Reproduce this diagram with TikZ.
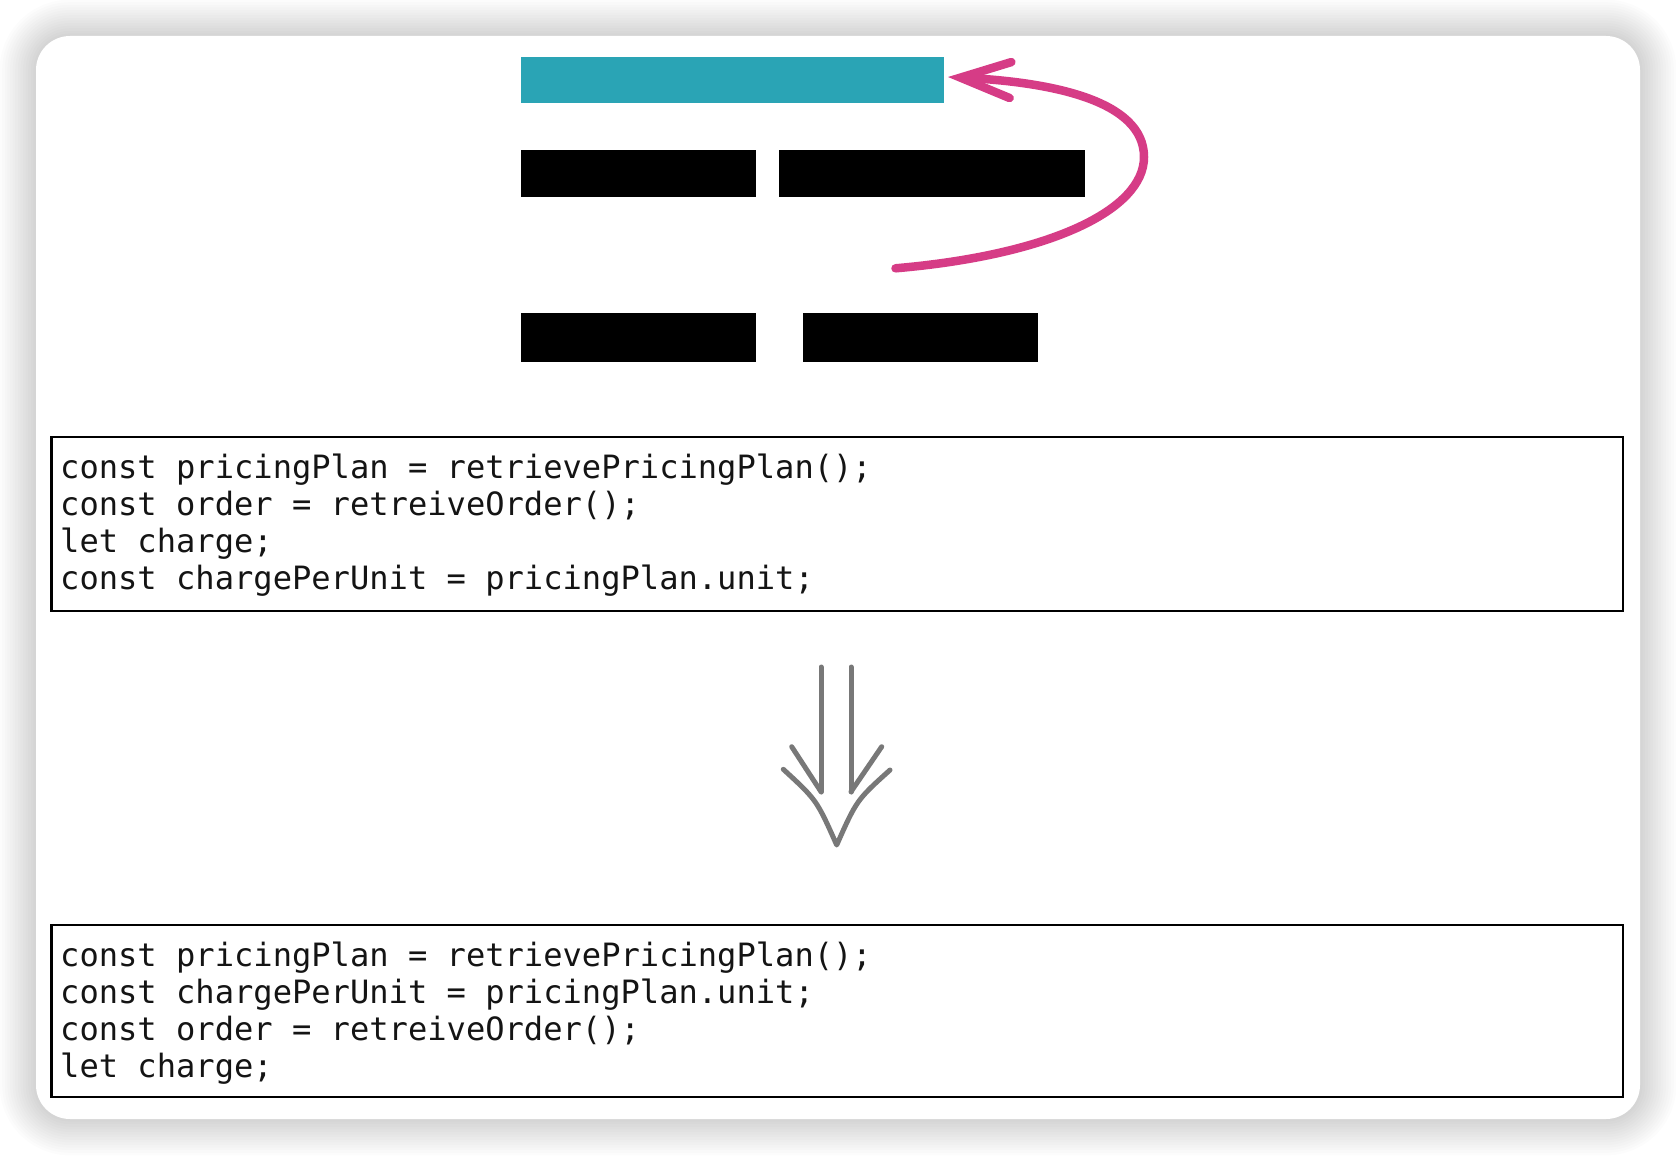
\documentclass[tikz,border=0pt]{standalone}
\usepackage{fontspec}
\newfontfamily\codefont{DejaVu Sans Mono}
\usetikzlibrary{arrows.meta}
\definecolor{tealbar}{HTML}{2AA4B5}
\definecolor{pinkarrow}{HTML}{D63C86}
\definecolor{grayarrow}{HTML}{787878}
\definecolor{codeink}{HTML}{141414}
\begin{document}
\begin{tikzpicture}[x=1pt,y=-1pt,
  barbox/.style={fill=black, draw=none, inner sep=0pt, outer sep=0pt},
  tealbox/.style={fill=tealbar, draw=none, inner sep=0pt, outer sep=0pt},
  codebox/.style={draw=black, line width=2.4pt, fill=white, inner sep=0pt},
  codeline/.style={anchor=base west, inner sep=0pt, text=codeink,
    font=\codefont\fontsize{32.1}{37}\selectfont},
  movearrow/.style={pinkarrow, line width=8.5pt, line cap=round,
    -{Straight Barb[length=50pt, width=36pt, line cap=round]}},
  downarrow/.style={grayarrow, line width=5pt, line cap=round, line join=round},
  ]
\useasboundingbox (0,0) rectangle (1676,1156);
\fill[white] (0,0) rectangle (1676,1156);
% card shadow
\foreach \i in {1,...,14} {
  \pgfmathsetmacro\rr{34+\i*2.6}
  \pgfmathsetmacro\dd{\i*2.6}
  \fill[black, opacity=0.011, rounded corners=\rr pt]
    (36-\dd, 36-\dd) rectangle (1640+\dd, 1119+\dd);
}
% card
\fill[white, rounded corners=34pt] (36,36) rectangle (1640,1119);

% bars
\node[tealbox, minimum width=423pt, minimum height=46pt] (teal) at (732.5,80) {};
\node[barbox, minimum width=235pt, minimum height=46.7pt] (b1) at (638.85,173.35) {};
\node[barbox, minimum width=305.7pt, minimum height=46.7pt] (b2) at (932.25,173.35) {};
\node[barbox, minimum width=235pt, minimum height=49pt] (b3) at (638.85,337.2) {};
\node[barbox, minimum width=234.6pt, minimum height=49pt] (b4) at (920.5,337.2) {};

% pink move arrow
\coordinate (pstart) at (895.5,268.3);
\draw[movearrow] (pstart) .. controls (1050,255) and (1144,210) .. (1144,157)
  .. controls (1144,100) and (1050,82) .. ([xshift=4pt,yshift=3pt]teal.east);

% code box 1
\node[codebox, minimum width=1571.7pt, minimum height=174.3pt] (box1) at (837.15,523.85) {};
\node[codeline] (l11) at (60,478.7) {const pricingPlan = retrievePricingPlan();};
\node[codeline] (l12) at (60,515.7) {const order = retreiveOrder();};
\node[codeline] (l13) at (60,552.7) {let charge;};
\node[codeline] (l14) at (60,589.7) {const chargePerUnit = pricingPlan.unit;};

% down arrow
\draw[downarrow] (821,667) -- (821,792);
\draw[downarrow] (851,667) -- (851,792);
\draw[downarrow] (791.7,746.7) -- (821,791.7);
\draw[downarrow] (881.7,746.7) -- (851,791.7);
\draw[downarrow] (783.3,769.3) .. controls (816.7,800) .. (836.7,845)
  .. controls (856.7,800) .. (890,770);

% code box 2
\node[codebox, minimum width=1571.7pt, minimum height=172.4pt] (box2) at (837.15,1010.95) {};
\node[codeline] (l21) at (60,966.6) {const pricingPlan = retrievePricingPlan();};
\node[codeline] (l22) at (60,1003.6) {const chargePerUnit = pricingPlan.unit;};
\node[codeline] (l23) at (60,1040.6) {const order = retreiveOrder();};
\node[codeline] (l24) at (60,1077.6) {let charge;};
\end{tikzpicture}
\end{document}
